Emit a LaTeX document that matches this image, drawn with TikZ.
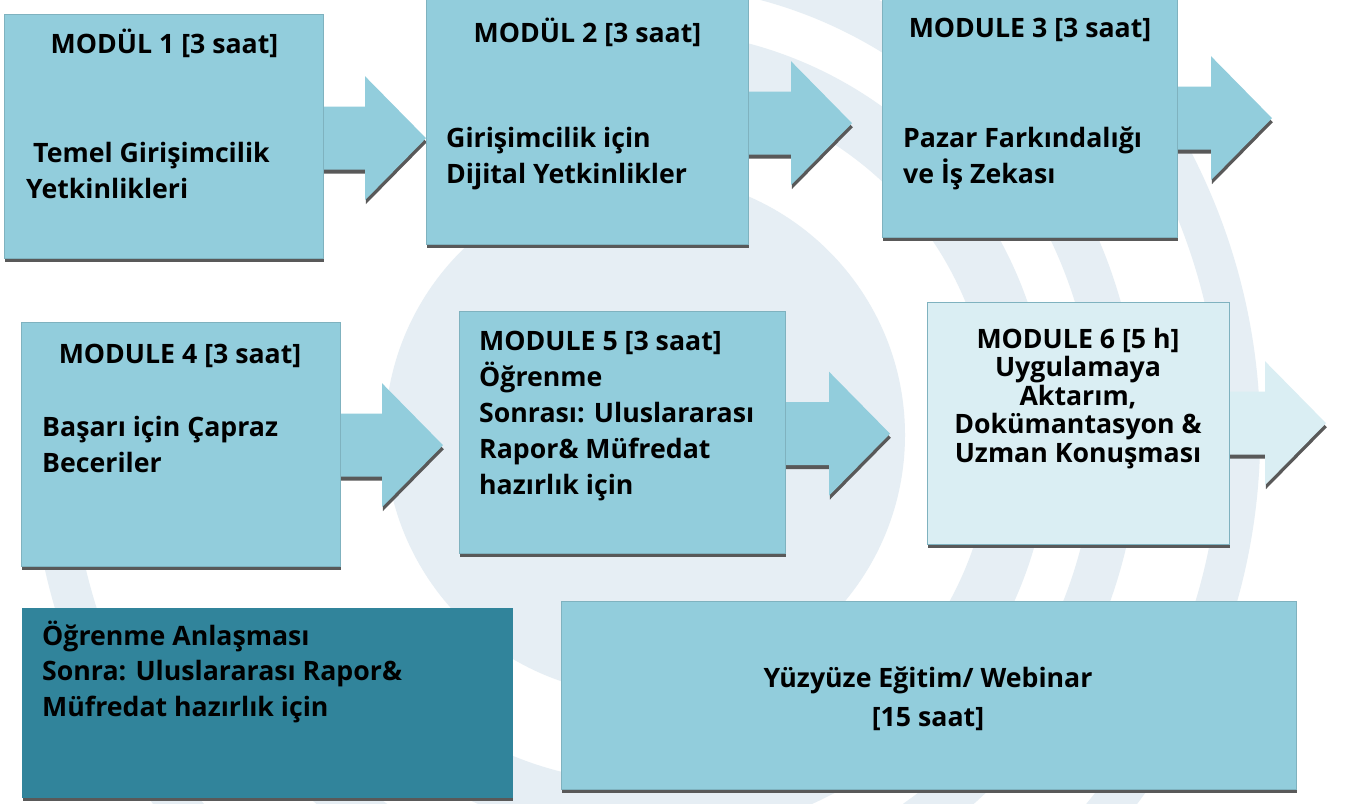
\documentclass[tikz,border=0pt]{standalone}
\usepackage{fontspec}
\setmainfont{Open Sans}
\usetikzlibrary{calc,shadows}
\definecolor{boxc}{HTML}{92CDDC}
\definecolor{boxlight}{HTML}{DAEEF3}
\definecolor{boxdark}{HTML}{31849B}
\definecolor{shadowc}{HTML}{595959}
\definecolor{edgec}{HTML}{7FB2BF}
\definecolor{wm}{HTML}{E6EEF4}
\newcommand\blockarrow[4]{%
  \path[fill=#4, arrowshade]
    ($(#1.east)+(-8,{#3-31.5})$) -- ($(#1.east)+({#2-61},{#3-31.5})$)
    -- ($(#1.east)+({#2-61},{#3-62})$) -- ($(#1.east)+(#2,#3)$)
    -- ($(#1.east)+({#2-61},{#3+62})$) -- ($(#1.east)+({#2-61},{#3+31.5})$)
    -- ($(#1.east)+(-8,{#3+31.5})$) -- cycle;}
\begin{document}
\begin{tikzpicture}[x=1pt,y=-1pt,
  txt/.style={font=\bfseries\fontsize{26.7}{35.5}\selectfont, inner sep=0pt, text=black},
  modbox/.style={draw=edgec, line width=0.8pt, fill=boxc, inner sep=0pt, anchor=north west,
     drop shadow={shadow xshift=0.8pt, shadow yshift=-4pt, fill=shadowc, opacity=1}},
  arrowshade/.style={drop shadow={shadow xshift=0.8pt, shadow yshift=-4pt, fill=shadowc, opacity=1}},
  ring/.style={draw=wm, line cap=butt}]
\useasboundingbox (0,0) rectangle (1346,803);
\fill[white] (0,0) rectangle (1346,803);
% watermark
\fill[wm] (645,435) circle[radius=260];
\draw[ring, line width=58pt] (645,435) ++(-110:376) arc[start angle=-110, end angle=150, radius=376];
\draw[ring, line width=44pt] (645,435) ++(-110:472) arc[start angle=-110, end angle=150, radius=472];
\draw[ring, line width=40pt] (645,435) ++(-110:595) arc[start angle=-110, end angle=176, radius=595];
% box positions
\path (4,14) coordinate (p1) (426,-2) coordinate (p2) (882,-2) coordinate (p3)
      (21,322) coordinate (p4) (459,311) coordinate (p5) (927,302) coordinate (p6);
\node[inner sep=0pt, minimum width=319pt, minimum height=244pt, anchor=north west] (a1) at (p1) {};
\node[inner sep=0pt, minimum width=322pt, minimum height=246pt, anchor=north west] (a2) at (p2) {};
\node[inner sep=0pt, minimum width=295pt, minimum height=239pt, anchor=north west] (a3) at (p3) {};
\node[inner sep=0pt, minimum width=319pt, minimum height=244pt, anchor=north west] (a4) at (p4) {};
\node[inner sep=0pt, minimum width=326pt, minimum height=242pt, anchor=north west] (a5) at (p5) {};
\node[inner sep=0pt, minimum width=302pt, minimum height=242pt, anchor=north west] (a6) at (p6) {};
% arrows
\blockarrow{a1}{102.6}{2}{boxc}
\blockarrow{a2}{103.6}{2}{boxc}
\blockarrow{a3}{94.6}{0.5}{boxc}
\blockarrow{a4}{102.6}{1}{boxc}
\blockarrow{a5}{104.6}{1.5}{boxc}
\blockarrow{a6}{96.6}{0}{boxlight}
% boxes
\node[modbox, minimum width=319pt, minimum height=244pt] (m1) at (p1) {};
\node[modbox, minimum width=322pt, minimum height=246pt] (m2) at (p2) {};
\node[modbox, minimum width=295pt, minimum height=239pt] (m3) at (p3) {};
\node[modbox, minimum width=319pt, minimum height=244pt] (m4) at (p4) {};
\node[modbox, minimum width=326pt, minimum height=242pt] (m5) at (p5) {};
\node[modbox, fill=boxlight, minimum width=302pt, minimum height=242pt] (m6) at (p6) {};
\node[modbox, fill=boxdark, draw=boxdark, minimum width=490pt, minimum height=189pt] (m7) at (22,608) {};
\node[modbox, minimum width=735pt, minimum height=188pt] (m8) at (561,601) {};
% texts (multi-line nodes: base = baseline of last line)
\node[txt, anchor=base] (h1) at (164.5,53) {MODÜL 1 [3 saat]};
\node[txt, anchor=base west, align=left] (b1) at (26,198) {\hspace*{7pt}Temel Girişimcilik\\Yetkinlikleri};
\node[txt, anchor=base] (h2) at (587.5,42) {MODÜL 2 [3 saat]};
\node[txt, anchor=base west, align=left] (b2) at (446,183) {Girişimcilik için\\Dijital Yetkinlikler};
\node[txt, anchor=base] (h3) at (1030,37) {MODULE 3 [3 saat]};
\node[txt, anchor=base west, align=left] (b3) at (903,183) {Pazar Farkındalığı\\ve İş Zekası};
\node[txt, anchor=base] (h4) at (180,363) {MODULE 4 [3 saat]};
\node[txt, anchor=base west, align=left] (b4) at (42,472) {Başarı için Çapraz\\Beceriler};
\node[txt, anchor=base west, align=left, font=\bfseries\fontsize{26.7}{36}\selectfont] (b5) at (479,494)
  {MODULE 5 [3 saat]\\Öğrenme\\Sonrası: Uluslararası\\Rapor\& Müfredat\\hazırlık için};
\node[txt, anchor=base, align=center, font=\bfseries\fontsize{26.7}{28.5}\selectfont] (b6) at (1078,462)
  {MODULE 6 [5 h]\\Uygulamaya\\Aktarım,\\Dokümantasyon \&\\Uzman Konuşması};
\node[txt, anchor=base west, align=left] (b7) at (42,716)
  {Öğrenme Anlaşması\\Sonra: Uluslararası Rapor\&\\Müfredat hazırlık için};
\node[txt, anchor=base, align=center, font=\bfseries\fontsize{26.7}{39}\selectfont] (b8) at (928,726)
  {Yüzyüze Eğitim/ Webinar\\{[15 saat]}};
\end{tikzpicture}
\end{document}
